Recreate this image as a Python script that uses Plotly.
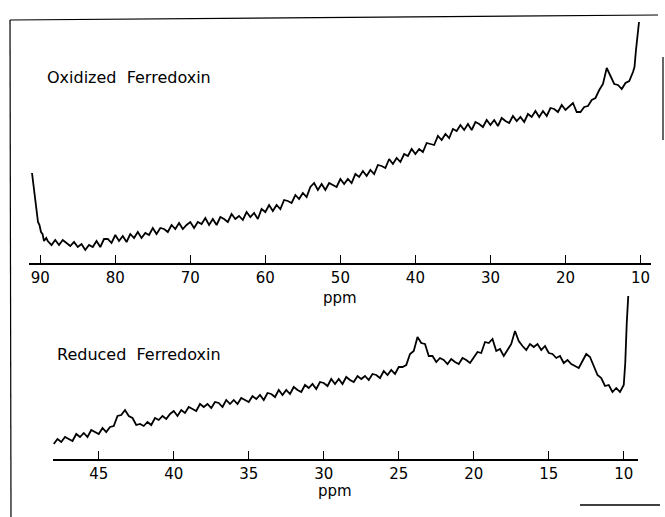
import plotly.graph_objects as go

# ---- Oxidized ferredoxin spectrum (ppm, intensity in arbitrary units) ----
ox_ppm = [91.1, 90.9, 90.7, 90.5, 90.3, 90.1, 89.9, 89.7, 89.5, 89.2,
          89.0, 88.5, 88.0, 87.5, 87.0, 86.5, 86.0, 85.5, 85.0, 84.5,
          84.0, 83.5, 83.0, 82.5, 82.0, 81.5, 81.0, 80.5, 80.0, 79.5,
          79.0, 78.5, 78.0, 77.5, 77.0, 76.5, 76.0, 75.5, 75.0, 74.5,
          74.0, 73.5, 73.0, 72.5, 72.0, 71.5, 71.0, 70.5, 70.0, 69.5,
          69.0, 68.5, 68.0, 67.5, 67.0, 66.5, 66.0, 65.5, 65.0, 64.5,
          64.0, 63.5, 63.0, 62.5, 62.0, 61.5, 61.0, 60.5, 60.0, 59.5,
          59.0, 58.5, 58.0, 57.5, 57.0, 56.5, 56.0, 55.5, 55.0, 54.5,
          54.0, 53.5, 53.0, 52.5, 52.0, 51.5, 51.0, 50.5, 50.0, 49.5,
          49.0, 48.5, 48.0, 47.5, 47.0, 46.5, 46.0, 45.5, 45.0, 44.5,
          44.0, 43.5, 43.0, 42.5, 42.0, 41.5, 41.0, 40.5, 40.0, 39.5,
          39.0, 38.5, 38.0, 37.5, 37.0, 36.5, 36.0, 35.5, 35.0, 34.5,
          34.0, 33.5, 33.0, 32.5, 32.0, 31.5, 31.0, 30.5, 30.0, 29.5,
          29.0, 28.5, 28.0, 27.5, 27.0, 26.5, 26.0, 25.5, 25.0, 24.5,
          24.0, 23.5, 23.0, 22.5, 22.0, 21.5, 21.0, 20.5, 20.0, 19.5,
          19.0, 18.5, 18.0, 17.5, 17.0, 16.5, 16.0, 15.5, 15.0, 14.5,
          14.0, 13.5, 13.0, 12.5, 12.0, 11.5, 11.0, 10.8, 10.6, 10.4,
          10.2]
ox_int = [90, 79, 65, 54, 41, 38, 31, 29, 22, 25,
          22, 18, 23, 18, 23, 20, 17, 21, 16, 19,
          13, 18, 16, 22, 16, 24, 24, 20, 28, 22,
          27, 21, 29, 25, 31, 25, 30, 28, 35, 29,
          35, 34, 31, 38, 34, 40, 34, 38, 41, 35,
          41, 39, 45, 38, 44, 38, 46, 44, 41, 49,
          44, 47, 43, 51, 46, 50, 44, 54, 51, 58,
          52, 58, 54, 63, 62, 60, 68, 64, 70, 66,
          76, 80, 73, 79, 73, 80, 78, 76, 84, 79,
          84, 80, 89, 86, 92, 87, 93, 89, 98, 97,
          95, 104, 99, 105, 101, 109, 107, 114, 109, 114,
          111, 120, 119, 118, 127, 123, 129, 125, 134, 132,
          138, 133, 139, 133, 141, 139, 136, 143, 138, 143,
          137, 145, 142, 140, 147, 142, 146, 141, 149, 146,
          152, 146, 152, 147, 155, 154, 151, 158, 153, 157,
          160, 151, 151, 156, 157, 163, 165, 173, 179, 195,
          187, 179, 178, 174, 180, 182, 191, 196, 213, 228,
          241]

# ---- Reduced ferredoxin spectrum ----
red_ppm = [48.0, 47.75, 47.5, 47.25, 47.0, 46.75, 46.5, 46.25, 46.0, 45.75,
           45.5, 45.25, 45.0, 44.75, 44.5, 44.25, 44.0, 43.75, 43.5, 43.25,
           43.0, 42.75, 42.5, 42.25, 42.0, 41.75, 41.5, 41.25, 41.0, 40.75,
           40.5, 40.25, 40.0, 39.75, 39.5, 39.25, 39.0, 38.75, 38.5, 38.25,
           38.0, 37.75, 37.5, 37.25, 37.0, 36.75, 36.5, 36.25, 36.0, 35.75,
           35.5, 35.25, 35.0, 34.75, 34.5, 34.25, 34.0, 33.75, 33.5, 33.25,
           33.0, 32.75, 32.5, 32.25, 32.0, 31.75, 31.5, 31.25, 31.0, 30.75,
           30.5, 30.25, 30.0, 29.75, 29.5, 29.25, 29.0, 28.75, 28.5, 28.25,
           28.0, 27.75, 27.5, 27.25, 27.0, 26.75, 26.5, 26.25, 26.0, 25.75,
           25.5, 25.25, 25.0, 24.75, 24.5, 24.25, 24.0, 23.75, 23.5, 23.25,
           23.0, 22.75, 22.5, 22.25, 22.0, 21.75, 21.5, 21.25, 21.0, 20.75,
           20.5, 20.25, 20.0, 19.75, 19.5, 19.25, 19.0, 18.75, 18.5, 18.25,
           18.0, 17.75, 17.5, 17.25, 17.0, 16.75, 16.5, 16.25, 16.0, 15.75,
           15.5, 15.25, 15.0, 14.75, 14.5, 14.25, 14.0, 13.75, 13.5, 13.25,
           13.0, 12.75, 12.5, 12.25, 12.0, 11.75, 11.5, 11.25, 11.0, 10.75,
           10.5, 10.25, 10.0, 9.9, 9.8, 9.7]
red_int = [15, 20, 17, 22, 20, 18, 25, 22, 26, 22,
           29, 27, 25, 31, 27, 32, 33, 43, 44, 49,
           43, 41, 34, 35, 33, 37, 34, 41, 39, 43,
           40, 45, 48, 43, 49, 46, 52, 50, 48, 55,
           52, 55, 51, 57, 56, 52, 59, 55, 59, 55,
           61, 59, 57, 63, 60, 64, 59, 66, 65, 62,
           69, 64, 69, 65, 72, 69, 67, 74, 71, 75,
           70, 77, 76, 73, 80, 75, 80, 75, 82, 79,
           77, 83, 80, 83, 79, 85, 84, 81, 88, 84,
           89, 85, 92, 92, 94, 105, 108, 122, 116, 115,
           103, 103, 97, 101, 99, 95, 100, 97, 95, 101,
           99, 96, 101, 107, 106, 117, 116, 120, 108, 110,
           103, 109, 115, 128, 118, 113, 109, 115, 112, 115,
           109, 113, 106, 105, 101, 103, 96, 99, 95, 93,
           91, 98, 105, 102, 93, 84, 81, 73, 74, 67,
           71, 67, 74, 96, 136, 163]

ox_ticks = [90, 80, 70, 60, 50, 40, 30, 20, 10]
red_ticks = [45, 40, 35, 30, 25, 20, 15, 10]

W, H = 665, 517
def px(x):
    return x / W
def py(y):
    return 1 - y / H

FONT = "DejaVu Sans, Arial, sans-serif"
line_style = dict(color="black", width=1.8)

fig = go.Figure()
fig.add_trace(go.Scatter(x=ox_ppm, y=ox_int, mode="lines", line=line_style,
                         xaxis="x", yaxis="y", showlegend=False, hoverinfo="skip"))
fig.add_trace(go.Scatter(x=red_ppm, y=red_int, mode="lines", line=line_style,
                         xaxis="x2", yaxis="y2", showlegend=False, hoverinfo="skip"))

axis_common = dict(showline=True, linecolor="black", linewidth=1.5,
                   ticks="inside", ticklen=8, tickwidth=1, tickcolor="black",
                   showgrid=False, zeroline=False,
                   tickfont=dict(family=FONT, size=15, color="black"),
                   ticklabelstandoff=0)

fig.update_layout(
    width=W, height=H,
    margin=dict(l=0, r=0, t=0, b=0),
    paper_bgcolor="white", plot_bgcolor="white",
    xaxis=dict(domain=[px(29), px(651)], range=[91.5, 8.6], anchor="y",
               tickvals=ox_ticks, ticktext=[str(t) for t in ox_ticks], **axis_common),
    yaxis=dict(domain=[py(263), py(17)], range=[0, 246], visible=False, anchor="x"),
    xaxis2=dict(domain=[px(53), px(638)], range=[48.05, 9.05], anchor="y2",
                tickvals=red_ticks, ticktext=[str(t) for t in red_ticks], **axis_common),
    yaxis2=dict(domain=[py(459), py(290)], range=[0, 169], visible=False, anchor="x2"),
    annotations=[
        dict(text="Oxidized  Ferredoxin", xref="paper", yref="paper",
             x=px(45), y=py(77), xanchor="left", yanchor="middle", showarrow=False,
             font=dict(family=FONT, size=16, color="black")),
        dict(text="Reduced  Ferredoxin", xref="paper", yref="paper",
             x=px(55), y=py(354), xanchor="left", yanchor="middle", showarrow=False,
             font=dict(family=FONT, size=16, color="black")),
        dict(text="ppm", xref="paper", yref="paper",
             x=px(340), y=py(298), xanchor="center", yanchor="middle", showarrow=False,
             font=dict(family=FONT, size=15, color="black")),
        dict(text="ppm", xref="paper", yref="paper",
             x=px(335), y=py(491), xanchor="center", yanchor="middle", showarrow=False,
             font=dict(family=FONT, size=15, color="black")),
    ],
    shapes=[
        # frame of the scanned figure
        dict(type="line", xref="paper", yref="paper", x0=px(10), y0=py(20), x1=px(11), y1=py(517),
             line=dict(color="black", width=1.2)),
        dict(type="line", xref="paper", yref="paper", x0=px(10), y0=py(20), x1=px(658), y1=py(15),
             line=dict(color="black", width=1.2)),
        dict(type="line", xref="paper", yref="paper", x0=px(663), y0=py(57), x1=px(663), y1=py(140),
             line=dict(color="black", width=1.2)),
        dict(type="line", xref="paper", yref="paper", x0=px(580), y0=py(505), x1=px(660), y1=py(505),
             line=dict(color="black", width=1.5)),
    ],
)

fig.write_html("out.html")
